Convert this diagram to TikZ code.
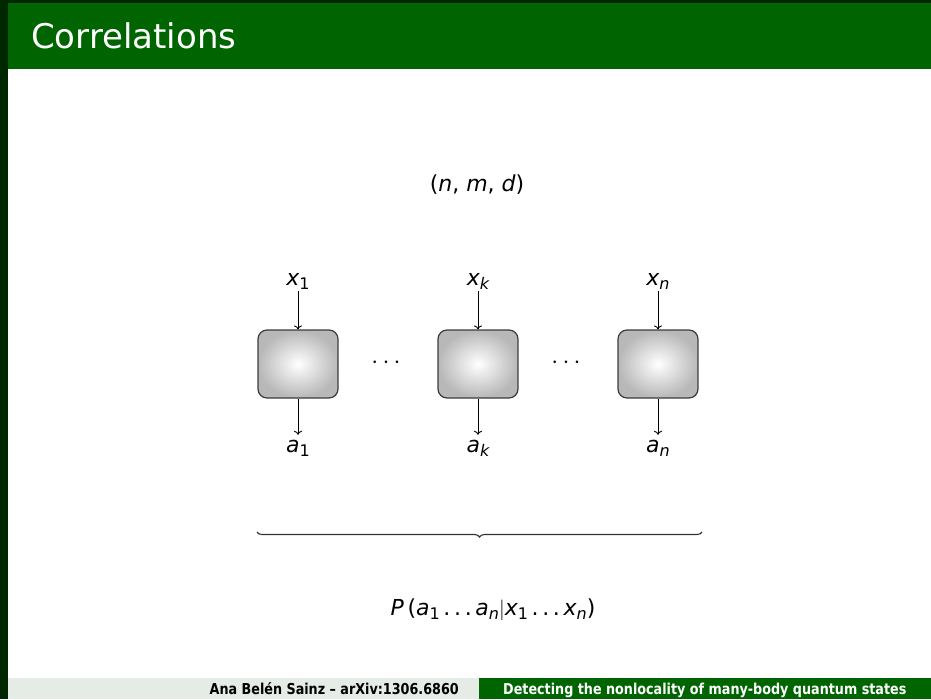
\documentclass[tikz,border=0pt]{standalone}
\usepackage{fontspec}
\usetikzlibrary{decorations.pathreplacing,arrows.meta}
\newfontfamily\mf{DejaVu Sans}
\newfontfamily\ffoot[FakeStretch=0.85]{DejaVu Sans}
\newcommand\vv[1]{{\mf\itshape #1}}
\newcommand\sbs[1]{\raisebox{-0.22em}{\fontsize{16}{16}\selectfont\mf #1}}
\newcommand\sbi[1]{\raisebox{-0.22em}{\fontsize{16}{16}\selectfont\mf\itshape #1}}
\newcommand\dd{\,.\,.\,.\,}
\definecolor{hdrgreen}{RGB}{0,100,0}
\definecolor{darkgreen}{RGB}{0,40,0}
\definecolor{footgray}{RGB}{229,235,229}
\definecolor{boxedge}{RGB}{60,60,60}
\tikzset{
  mathlbl/.style={inner sep=1pt, text height=16pt, text depth=5pt, font=\fontsize{22}{26}\mf\selectfont},
  devbox/.style={draw=boxedge, line width=1.2pt, rounded corners=9pt,
    minimum width=80pt, minimum height=68pt, inner sep=0pt,
    inner color=white, outer color=black!28},
  arr/.style={line width=0.9pt, -{To[length=4pt,width=8pt]}},
  dotsl/.style={inner sep=0pt, font=\fontsize{29}{32}\selectfont},
  foottxt/.style={inner sep=0pt, font=\fontsize{15}{18}\ffoot\bfseries}
}
\begin{document}
\begin{tikzpicture}[x=1pt,y=-1pt]
\useasboundingbox (0,0) rectangle (931,699);
% background
\fill[darkgreen] (0,0) rectangle (931,699);
\fill[white] (8,69) rectangle (931,678);
\fill[hdrgreen] (8,3) rectangle (931,69);
\fill[footgray] (8,678) rectangle (479,699);
\fill[hdrgreen] (479,678) rectangle (931,699);
% title
\node[anchor=base west, inner sep=0pt, text=white,
  font=\fontsize{34}{38}\mf\selectfont] (title) at (31,48) {Correlations};
% parameters
\node[mathlbl, anchor=base] (params) at (477,191) {(\vv{n}, \vv{m}, \vv{d})};
% boxes
\node[devbox] (b1) at (298,364) {};
\node[devbox] (bk) at (478,364) {};
\node[devbox] (bn) at (658,364) {};
% inputs
\node[mathlbl, anchor=base] (x1) at (298,285) {\vv{x}\sbs{1}};
\node[mathlbl, anchor=base] (xk) at (478,285) {\vv{x}\sbi{k}};
\node[mathlbl, anchor=base] (xn) at (658,285) {\vv{x}\sbi{n}};
% outputs
\node[mathlbl, anchor=base] (a1) at (298,452) {\vv{a}\sbs{1}};
\node[mathlbl, anchor=base] (ak) at (478,452) {\vv{a}\sbi{k}};
\node[mathlbl, anchor=base] (an) at (658,452) {\vv{a}\sbi{n}};
\draw[arr] (x1.south) -- (b1.north);
\draw[arr] (xk.south) -- (bk.north);
\draw[arr] (xn.south) -- (bn.north);
\draw[arr] (b1.south) -- (a1.north);
\draw[arr] (bk.south) -- (ak.north);
\draw[arr] (bn.south) -- (an.north);
% dots
\node[dotsl] (d1) at (386,363) {$\cdots$};
\node[dotsl] (d2) at (566,363) {$\cdots$};
% brace
\coordinate (bl) at (257,532);
\coordinate (br) at (702,532);
\draw[line width=1.1pt, black!80, decorate, decoration={brace, mirror, amplitude=5pt}] (bl) -- (br);
% joint probability
\node[mathlbl, anchor=base] (prob) at (493,615) {\vv{P}\,(\vv{a}\sbs{1}\dd\vv{a}\sbi{n}$|$\vv{x}\sbs{1}\dd\vv{x}\sbi{n})};
% footer
\node[foottxt, anchor=base east, text=black] (author) at (459,694) {Ana Belén Sainz – arXiv:1306.6860};
\node[foottxt, anchor=base west, text=white] (talk) at (503,694) {Detecting the nonlocality of many-body quantum states};
\end{tikzpicture}
\end{document}
